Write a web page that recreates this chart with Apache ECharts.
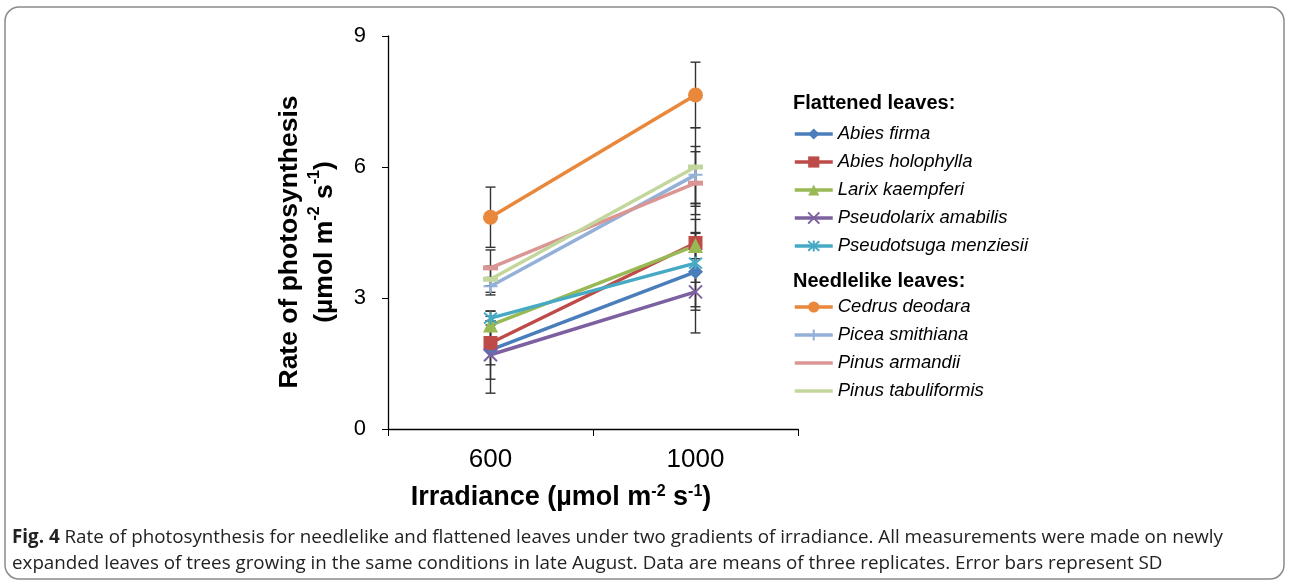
<!DOCTYPE html>
<html>
<head>
<meta charset="utf-8">
<script src="https://cdn.jsdelivr.net/npm/echarts@6/dist/echarts.min.js"></script>
<style>
  html, body { margin: 0; padding: 0; background: #fff; }
  #main { width: 1290px; height: 584px; }
</style>
</head>
<body>
<div id="main"></div>
<script>
// irradiance levels (x categories)
const irradiance = ['600', '1000'];
const yTicks = [0, 3, 6, 9];

// flattened leaves: means and SD
const abiesFirma = [1.81, 3.60];
const abiesFirmaSd = [0.67, 0.88];
const abiesHolophylla = [1.97, 4.26];
const abiesHolophyllaSd = [0.50, 0.90];
const larixKaempferi = [2.38, 4.20];
const larixKaempferiSd = [0.32, 0.30];
const pseudolarixAmabilis = [1.70, 3.14];
const pseudolarixAmabilisSd = [0.88, 0.94];
const pseudotsugaMenziesii = [2.54, 3.80];
const pseudotsugaMenziesiiSd = [0.16, 1.00];

// needlelike leaves
const cedrusDeodara = [4.85, 7.65];
const cedrusDeodaraSd = [0.69, 0.75];
const piceaSmithiana = [3.27, 5.82];
const piceaSmithianaSd = [0.20, 0.65];
const pinusArmandii = [3.69, 5.63];
const pinusArmandiiSd = [0.41, 0.72];
const pinusTabuliformis = [3.43, 6.00];
const pinusTabuliformisSd = [0.30, 0.90];

const flattenedNames = ['Abies firma', 'Abies holophylla', 'Larix kaempferi', 'Pseudolarix amabilis', 'Pseudotsuga menziesii'];
const needleNames = ['Cedrus deodara', 'Picea smithiana', 'Pinus armandii', 'Pinus tabuliformis'];
// these two show only a line in the legend (dash marker blends in)
const lineOnlyLegend = ['Pinus armandii', 'Pinus tabuliformis'];

const FONT = '"Liberation Sans", Arial, sans-serif';
const X_PATH = 'path://M0,0L10,10M10,0L0,10';
const STAR_PATH = 'path://M0,0L10,10M10,0L0,10M5,-1L5,11';
const PLUS_PATH = 'path://M5,0L5,10M0,5L10,5';

const seriesDefs = [
  { name: 'Abies firma', data: abiesFirma, sd: abiesFirmaSd, color: '#4A7EBB', symbol: 'diamond', size: 15 },
  { name: 'Abies holophylla', data: abiesHolophylla, sd: abiesHolophyllaSd, color: '#BE4B48', symbol: 'rect', size: 14 },
  { name: 'Larix kaempferi', data: larixKaempferi, sd: larixKaempferiSd, color: '#98B954', symbol: 'triangle', size: 15 },
  { name: 'Pseudolarix amabilis', data: pseudolarixAmabilis, sd: pseudolarixAmabilisSd, color: '#7D60A0', symbol: X_PATH, size: 13, stroke: true },
  { name: 'Pseudotsuga menziesii', data: pseudotsugaMenziesii, sd: pseudotsugaMenziesiiSd, color: '#46AAC5', symbol: STAR_PATH, size: 13, stroke: true },
  { name: 'Cedrus deodara', data: cedrusDeodara, sd: cedrusDeodaraSd, color: '#E9873B', symbol: 'circle', size: 15 },
  { name: 'Picea smithiana', data: piceaSmithiana, sd: piceaSmithianaSd, color: '#93B1D8', symbol: PLUS_PATH, size: 14, stroke: true },
  { name: 'Pinus armandii', data: pinusArmandii, sd: pinusArmandiiSd, color: '#D99694', symbol: 'rect', size: [15, 5] },
  { name: 'Pinus tabuliformis', data: pinusTabuliformis, sd: pinusTabuliformisSd, color: '#C3D69B', symbol: 'rect', size: [15, 5] }
];

const myChart = echarts.init(document.getElementById('main'));

// error bar points: [category index, low, high]
const errData = [];
seriesDefs.forEach(s => {
  s.data.forEach((v, i) => {
    errData.push([i, v - s.sd[i], v + s.sd[i]]);
  });
});

const series = seriesDefs.map(s => ({
  name: s.name,
  type: 'line',
  data: s.data,
  symbol: s.symbol,
  symbolSize: s.size,
  showAllSymbol: true,
  z: 3,
  lineStyle: { color: s.color, width: 3.5 },
  itemStyle: s.stroke
    ? { color: s.color, borderColor: s.color, borderWidth: 2 }
    : { color: s.color, borderWidth: 0 },
  emphasis: { disabled: true }
}));

series.push({
  name: 'err',
  type: 'custom',
  z: 2,
  silent: true,
  data: errData,
  encode: { x: 0, y: [1, 2] },
  renderItem: function (params, api) {
    const idx = api.value(0);
    const lo = api.coord([idx, api.value(1)]);
    const hi = api.coord([idx, api.value(2)]);
    const half = 5;
    const style = { stroke: '#333', lineWidth: 1.4 };
    return {
      type: 'group',
      children: [
        { type: 'line', shape: { x1: lo[0], y1: lo[1], x2: hi[0], y2: hi[1] }, style: style },
        { type: 'line', shape: { x1: lo[0] - half, y1: lo[1], x2: lo[0] + half, y2: lo[1] }, style: style },
        { type: 'line', shape: { x1: hi[0] - half, y1: hi[1], x2: hi[0] + half, y2: hi[1] }, style: style }
      ]
    };
  }
});

function legendData(names) {
  return names.map(n => lineOnlyLegend.includes(n)
    ? { name: n, itemStyle: { opacity: 0 } }
    : n);
}

const legendBase = {
  orient: 'vertical',
  left: 793,
  padding: 0,
  itemWidth: 38,
  itemHeight: 14,
  itemGap: 8,
  selectedMode: false,
  lineStyle: { width: 3.5 },
  textStyle: { color: '#000', fontSize: 18.5, fontStyle: 'italic', fontFamily: FONT, lineHeight: 20 }
};

const supStyle = { fontSize: 16, fontWeight: 'bold', fontFamily: FONT, verticalAlign: 'top', padding: [0, 0, 12, 0], color: '#000' };

const option = {
  backgroundColor: '#fff',
  animation: false,
  grid: { left: 388, right: 492, top: 36, bottom: 155 },
  legend: [
    Object.assign({ data: legendData(flattenedNames), top: 124 }, legendBase),
    Object.assign({ data: legendData(needleNames), top: 297 }, legendBase)
  ],
  xAxis: {
    type: 'category',
    data: irradiance,
    boundaryGap: true,
    axisLine: { lineStyle: { color: '#000', width: 1.3 } },
    axisTick: { show: true, length: 7, lineStyle: { color: '#000' } },
    axisLabel: { color: '#000', fontSize: 26, fontFamily: FONT, margin: 18 }
  },
  yAxis: {
    type: 'value',
    min: yTicks[0],
    max: yTicks[yTicks.length - 1],
    interval: 3,
    splitLine: { show: false },
    axisLine: { show: true, lineStyle: { color: '#000', width: 1.3 } },
    axisTick: { show: true, length: 6, lineStyle: { color: '#000' } },
    axisLabel: { color: '#000', fontSize: 22, fontFamily: FONT, margin: 22 }
  },
  graphic: [
    {
      type: 'rect',
      shape: { x: 5, y: 7, width: 1279, height: 572, r: 14 },
      style: { fill: 'none', stroke: '#8a8a8a', lineWidth: 1.5 },
      silent: true
    },
    {
      // y axis title
      type: 'text', x: 307, y: 242, rotation: Math.PI / 2,
      style: {
        text: 'Rate of photosynthesis\n(µmol m{sup|-2} s{sup|-1})',
        fill: '#000', font: 'bold 26.5px ' + FONT,
        align: 'center', verticalAlign: 'middle', lineHeight: 35,
        rich: { sup: supStyle }
      }
    },
    {
      // x axis title
      type: 'text', x: 561, y: 498,
      style: {
        text: 'Irradiance (µmol m{sup|-2} s{sup|-1})',
        fill: '#000', font: 'bold 27px ' + FONT,
        align: 'center', verticalAlign: 'middle',
        rich: { sup: supStyle }
      }
    },
    {
      type: 'text', left: 793, top: 93,
      style: { text: 'Flattened leaves:', fill: '#000', font: 'bold 20px ' + FONT }
    },
    {
      type: 'text', left: 793, top: 271,
      style: { text: 'Needlelike leaves:', fill: '#000', font: 'bold 20px ' + FONT }
    },
    {
      type: 'text', left: 12, top: 525,
      style: {
        text: '{b|Fig. 4} Rate of photosynthesis for needlelike and flattened leaves under two gradients of irradiance. All measurements were made on newly\nexpanded leaves of trees growing in the same conditions in late August. Data are means of three replicates. Error bars represent SD',
        fill: '#222',
        font: '18.8px "Open Sans", sans-serif',
        lineHeight: 26,
        rich: {
          b: { font: 'bold 18.8px "Open Sans", sans-serif', fill: '#222', lineHeight: 26 }
        }
      }
    }
  ],
  series: series
};

myChart.setOption(option);
</script>
</body>
</html>
